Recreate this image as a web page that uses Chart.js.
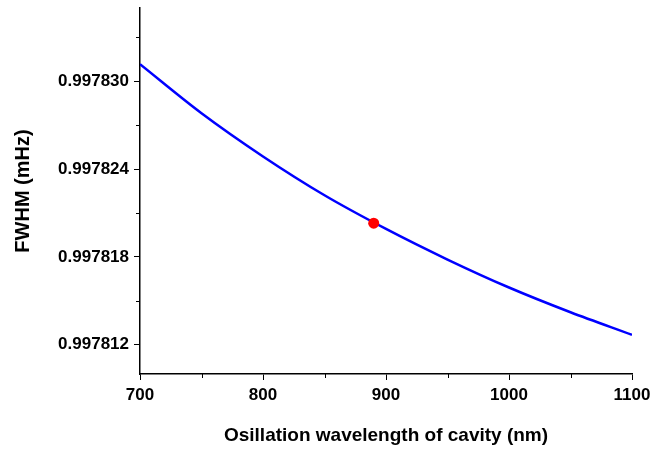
<!DOCTYPE html>
<html>
<head>
<meta charset="utf-8">
<script src="https://cdn.jsdelivr.net/npm/chart.js@4/dist/chart.umd.min.js"></script>
<style>
  html, body { margin: 0; padding: 0; background: #fff; }
  canvas { display: block; }
</style>
</head>
<body>
<canvas id="fwhm-chart" width="653" height="450"></canvas>
<script>
// values
const wavelengths = [700, 750, 800, 850, 900, 950, 1000, 1050, 1100];
const fwhm = [0.99783116, 0.99782781, 0.99782486, 0.99782221, 0.99781991, 0.99781782, 0.99781591, 0.99781422, 0.99781268];
const markerWavelength = [890];
const markerFwhm = [0.9978203];

const xMajorTicks = [700, 800, 900, 1000, 1100];
const xMinorTicks = [750, 850, 950, 1050];
const yMajorTicks = [0.997812, 0.997818, 0.997824, 0.997830];
const yMinorTicks = [0.997815, 0.997821, 0.997827, 0.997833];

const FONT = "'Liberation Sans', Arial, sans-serif";

const minorTicks = {
  id: "minorTicks",
  afterDraw(c) {
    const ctx = c.ctx;
    const xs = c.scales.x, ys = c.scales.y;
    ctx.save();
    ctx.strokeStyle = "#000";
    ctx.lineWidth = 1;
    ctx.beginPath();
    for (const v of xMinorTicks) {
      const px = Math.round(xs.getPixelForValue(v)) + 0.5;
      ctx.moveTo(px, xs.top);
      ctx.lineTo(px, xs.top + 4);
    }
    for (const v of yMinorTicks) {
      const py = Math.round(ys.getPixelForValue(v)) + 0.5;
      ctx.moveTo(ys.right, py);
      ctx.lineTo(ys.right - 4, py);
    }
    ctx.stroke();
    ctx.restore();
  },
};

new Chart(document.getElementById("fwhm-chart"), {
  type: "line",
  data: {
    datasets: [
      {
        label: "FWHM",
        data: wavelengths.map((w, i) => ({ x: w, y: fwhm[i] })),
        borderColor: "#0000ff",
        borderWidth: 2.5,
        pointRadius: 0,
        cubicInterpolationMode: "monotone",
        fill: false,
        order: 2,
      },
      {
        label: "marker",
        data: markerWavelength.map((w, i) => ({ x: w, y: markerFwhm[i] })),
        showLine: false,
        pointRadius: 5.5,
        pointBackgroundColor: "#ff0000",
        pointBorderColor: "#ff0000",
        pointBorderWidth: 0,
        order: 1,
      },
    ],
  },
  options: {
    responsive: false,
    animation: false,
    devicePixelRatio: 1,
    layout: { padding: { top: 8, right: 21, left: 0, bottom: 3 } },
    plugins: { legend: { display: false }, tooltip: { enabled: false } },
    scales: {
      x: {
        type: "linear",
        min: 700,
        max: 1100,
        afterBuildTicks: s => { s.ticks = xMajorTicks.map(v => ({ value: v })); },
        afterFit: s => { s.height = 73; s.paddingLeft = 0; s.paddingRight = 0; },
        border: { display: true, color: "#000", width: 1.5 },
        grid: { display: true, drawOnChartArea: false, drawTicks: true, tickLength: 6, color: "#000", tickWidth: 1 },
        ticks: {
          color: "#000",
          font: { family: FONT, size: 17, weight: "bold" },
          padding: 5,
          maxRotation: 0,
          autoSkip: false,
          callback: v => String(v),
        },
        title: {
          display: true,
          text: "Osillation wavelength of cavity (nm)",
          color: "#000",
          font: { family: FONT, size: 19, weight: "bold" },
          padding: { top: 0, bottom: 0 },
        },
      },
      y: {
        type: "linear",
        min: 0.99781,
        max: 0.997835,
        afterBuildTicks: s => { s.ticks = yMajorTicks.map(v => ({ value: v })); },
        afterFit: s => { s.width = 140; s.paddingTop = 0; s.paddingBottom = 0; },
        border: { display: true, color: "#000", width: 1.5 },
        grid: { display: true, drawOnChartArea: false, drawTicks: true, tickLength: 6, color: "#000", tickWidth: 1 },
        ticks: {
          color: "#000",
          font: { family: FONT, size: 17, weight: "bold" },
          padding: 5,
          autoSkip: false,
          callback: v => v.toFixed(6),
        },
        title: {
          display: true,
          text: "FWHM (mHz)",
          color: "#000",
          font: { family: FONT, size: 20, weight: "bold" },
          padding: { top: 11, bottom: 0 },
        },
      },
    },
  },
  plugins: [minorTicks],
});
</script>
</body>
</html>
